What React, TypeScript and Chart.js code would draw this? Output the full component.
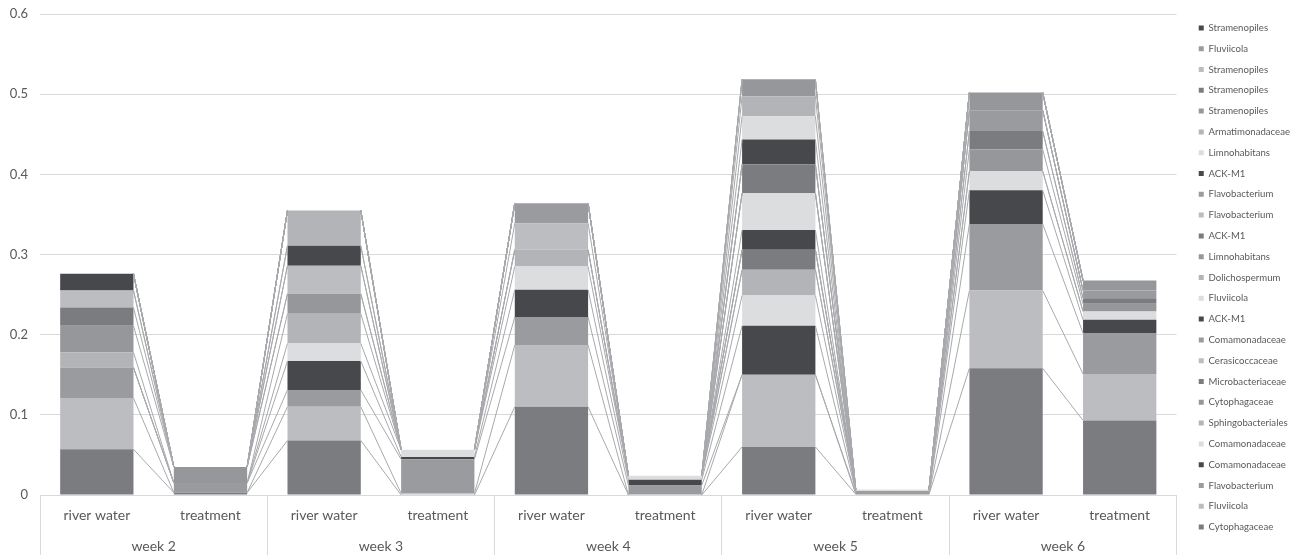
import React, { useEffect, useRef } from 'react';
import { Chart, registerables } from 'chart.js';

Chart.register(...registerables);

// ---- data ----
const categories = [
  'river water', 'treatment',
  'river water', 'treatment',
  'river water', 'treatment',
  'river water', 'treatment',
  'river water', 'treatment',
];
const weeks = ['week 2', 'week 3', 'week 4', 'week 5', 'week 6'];
const yTickLabels = ['0', '0.1', '0.2', '0.3', '0.4', '0.5', '0.6'];

const seriesNames = [
  'Cytophagaceae', 'Fluviicola', 'Flavobacterium', 'Comamonadaceae', 'Comamonadaceae',
  'Sphingobacteriales', 'Cytophagaceae', 'Microbacteriaceae', 'Cerasicoccaceae', 'Comamonadaceae',
  'ACK-M1', 'Fluviicola', 'Dolichospermum', 'Limnohabitans', 'ACK-M1',
  'Flavobacterium', 'Flavobacterium', 'ACK-M1', 'Limnohabitans', 'Armatimonadaceae',
  'Stramenopiles', 'Stramenopiles', 'Stramenopiles', 'Fluviicola', 'Stramenopiles',
];

const s01 = [0.057, 0.003, 0.068, 0, 0.110, 0, 0.060, 0.001, 0.158, 0.093];
const s02 = [0.064, 0, 0.042, 0.002, 0.077, 0, 0.090, 0, 0.097, 0.058];
const s03 = [0.038, 0.012, 0.021, 0.0425, 0.035, 0.012, 0, 0.002, 0.083, 0.051];
const s04 = [0, 0, 0.036, 0.003, 0.034, 0.007, 0.061, 0.0015, 0.042, 0.0165];
const s05 = [0, 0, 0.022, 0.009, 0.029, 0.005, 0.038, 0.0025, 0.024, 0.0105];
const s06 = [0.019, 0, 0.037, 0, 0.021, 0, 0.032, 0, 0, 0];
const s07 = [0.033, 0.020, 0.025, 0, 0, 0, 0, 0, 0.027, 0.0095];
const s08 = [0.023, 0, 0, 0, 0, 0, 0.025, 0, 0.023, 0.007];
const s09 = [0.021, 0, 0.035, 0, 0.033, 0, 0, 0, 0, 0];
const s10 = [0, 0, 0, 0, 0.025, 0, 0, 0, 0.026, 0.0095];
const s11 = [0.021, 0, 0.025, 0, 0, 0, 0.0245, 0, 0, 0];
const s12 = [0, 0, 0, 0, 0, 0, 0.046, 0, 0, 0];
const s13 = [0, 0, 0.044, 0, 0, 0, 0, 0, 0, 0];
const s14 = [0, 0, 0, 0, 0, 0, 0, 0, 0.022, 0.0125];
const s15 = [0, 0, 0, 0, 0, 0, 0.036, 0, 0, 0];
const s16 = [0, 0, 0, 0, 0, 0, 0, 0, 0, 0];
const s17 = [0, 0, 0, 0, 0, 0, 0, 0, 0, 0];
const s18 = [0, 0, 0, 0, 0, 0, 0.031, 0, 0, 0];
const s19 = [0, 0, 0, 0, 0, 0, 0.029, 0, 0, 0];
const s20 = [0, 0, 0, 0, 0, 0, 0.025, 0, 0, 0];
const s21 = [0, 0, 0, 0, 0, 0, 0.021, 0, 0, 0];
const s22 = [0, 0, 0, 0, 0, 0, 0, 0, 0, 0];
const s23 = [0, 0, 0, 0, 0, 0, 0, 0, 0, 0];
const s24 = [0, 0, 0, 0, 0, 0, 0, 0, 0, 0];
const s25 = [0, 0, 0, 0, 0, 0, 0, 0, 0, 0];

const seriesValues = [
  s01, s02, s03, s04, s05, s06, s07, s08, s09, s10, s11, s12, s13,
  s14, s15, s16, s17, s18, s19, s20, s21, s22, s23, s24, s25,
];

// ---- style ----
const palette = ['#7b7c80', '#bcbdc0', '#9a9b9e', '#47484b', '#dcdddf', '#b3b4b7', '#96979a'];
const FONT = 'Lato, "Noto Sans", sans-serif';
const TEXT = '#595959';
const GRID = '#d9d9d9';
const LEGEND_SHIFT = 11;

const seriesLinesPlugin = {
  id: 'seriesLines',
  afterDatasetsDraw(chart: any) {
    const ctx = chart.ctx;
    ctx.save();
    ctx.strokeStyle = '#a8a9ac';
    ctx.lineWidth = 1;
    chart.data.datasets.forEach((_ds: any, i: number) => {
      const meta = chart.getDatasetMeta(i);
      if (!meta || meta.hidden) return;
      for (let j = 0; j < meta.data.length - 1; j++) {
        const a: any = meta.data[j];
        const b: any = meta.data[j + 1];
        ctx.beginPath();
        ctx.moveTo(a.x + a.width / 2, a.y);
        ctx.lineTo(b.x - b.width / 2, b.y);
        ctx.stroke();
      }
    });
    ctx.restore();
  },
};

const legendShiftPlugin = {
  id: 'legendShift',
  afterLayout(chart: any) {
    const l = chart.legend;
    if (l) {
      l.left += LEGEND_SHIFT;
      l.right += LEGEND_SHIFT;
    }
  },
};

export default function App() {
  const ref = useRef<HTMLCanvasElement | null>(null);

  useEffect(() => {
    document.body.style.margin = '0';
    if (!ref.current) return;
    const chart = new Chart(ref.current, {
      type: 'bar',
      data: {
        labels: categories,
        datasets: seriesNames.map((name, i) => ({
          label: name,
          data: seriesValues[i],
          backgroundColor: palette[i % palette.length],
          borderWidth: 0,
          barPercentage: 0.645,
          categoryPercentage: 1,
        })),
      },
      options: {
        animation: false,
        responsive: true,
        maintainAspectRatio: false,
        layout: { padding: { left: 0, right: 10, top: 0, bottom: 0 } },
        plugins: {
          tooltip: { enabled: false },
          legend: {
            position: 'right',
            align: 'center',
            reverse: true,
            labels: {
              boxWidth: 5,
              boxHeight: 5,
              padding: 11.2,
              color: TEXT,
              font: { family: FONT, size: 9.6 },
            },
          },
        },
        scales: {
          x: {
            type: 'category',
            position: 'bottom',
            stacked: true,
            offset: true,
            weight: 0,
            grid: {
              display: true,
              offset: true,
              drawOnChartArea: false,
              drawTicks: true,
              tickLength: 60,
              lineWidth: 1,
              color: (c: any) => (c.type !== 'tick' || c.index % 2 === 0 ? GRID : 'rgba(0,0,0,0)'),
            },
            border: { display: true, color: GRID },
            ticks: {
              padding: -48,
              autoSkip: false,
              maxRotation: 0,
              color: TEXT,
              font: { family: FONT, size: 14 },
            },
            afterFit: (s: any) => { s.height = 30; },
          },
          x2: {
            type: 'category',
            labels: weeks,
            position: 'bottom',
            offset: true,
            weight: 1,
            grid: { display: false, drawTicks: false },
            border: { display: false },
            ticks: {
              padding: 13,
              autoSkip: false,
              maxRotation: 0,
              color: TEXT,
              font: { family: FONT, size: 14 },
            },
            afterFit: (s: any) => { s.height = 30; },
          },
          xT: {
            type: 'linear',
            axis: 'x',
            position: 'top',
            display: true,
            grid: { display: false, drawTicks: false },
            border: { display: false },
            ticks: { display: false },
            afterFit: (s: any) => { s.height = 14; },
          },
          y: {
            type: 'linear',
            stacked: true,
            min: 0,
            max: 0.6,
            grid: { color: GRID, drawTicks: true, tickLength: 12, tickColor: 'rgba(0,0,0,0)', lineWidth: 1 },
            border: { display: false },
            ticks: {
              stepSize: 0.1,
              padding: 0,
              color: TEXT,
              font: { family: FONT, size: 13 },
              callback: (_v: any, idx: number) => yTickLabels[idx],
            },
            afterFit: (s: any) => { s.width = 40; },
          },
        } as any,
      },
      plugins: [seriesLinesPlugin, legendShiftPlugin],
    });
    return () => chart.destroy();
  }, []);

  return (
    <div style={{ position: 'relative', width: 1299, height: 555, overflow: 'hidden' }}>
      <canvas ref={ref} />
    </div>
  );
}
